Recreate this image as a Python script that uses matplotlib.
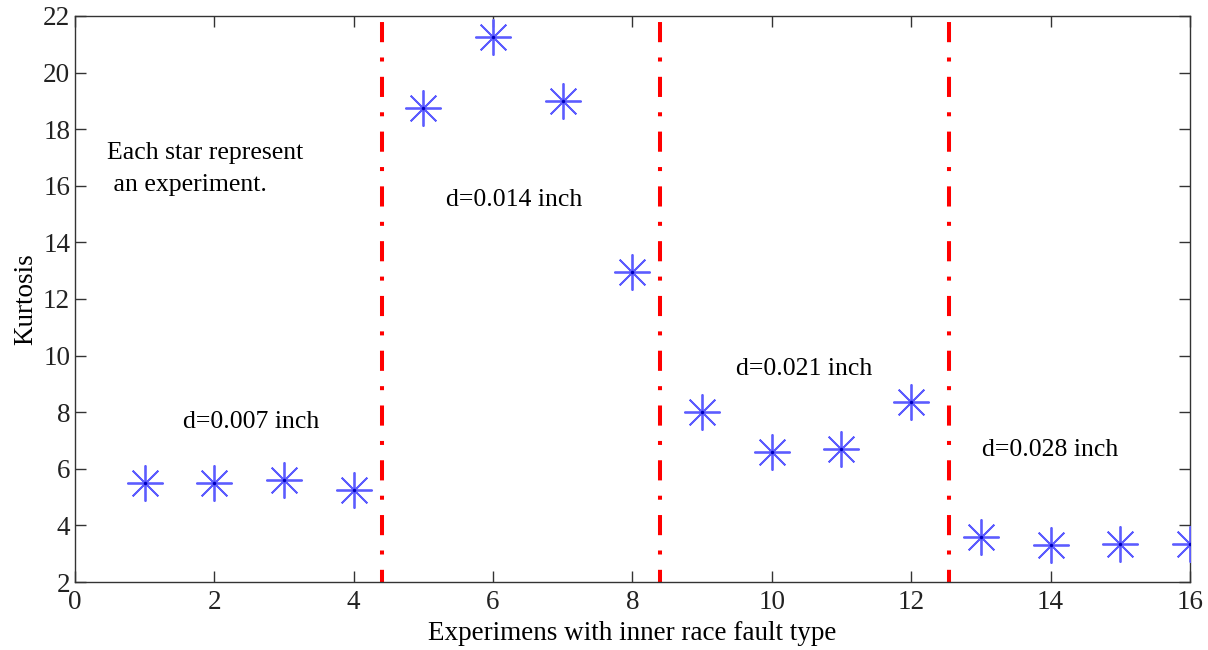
import matplotlib
matplotlib.use("Agg")
import matplotlib.pyplot as plt

experiments = list(range(1, 17))
kurtosis = [5.5, 5.5, 5.6, 5.25, 18.75, 21.25, 19.0, 12.95,
            8.0, 6.6, 6.7, 8.35, 3.6, 3.3, 3.34, 3.34]
boundaries = [4.4, 8.4, 12.55]
group_labels = ["d=0.007 inch", "d=0.014 inch", "d=0.021 inch", "d=0.028 inch"]
group_label_x = [2.53, 6.3, 10.46, 13.99]
group_label_y = [7.65, 15.5, 9.53, 6.66]
xticks = list(range(0, 17, 2))
yticks = list(range(2, 23, 2))

plt.rcParams['font.family'] = ['Liberation Serif', 'DejaVu Serif']

fig = plt.figure(figsize=(12.08, 6.5), dpi=100)
ax = fig.add_axes([0.0621, 0.1046, 0.985 - 0.0621, 0.9754 - 0.1046])

ylo, yhi = 2, 22
for b in boundaries:
    ax.plot([b, b], [yhi, ylo], color='#ff0000', linewidth=2.9,
            linestyle=(12.1, (5, 3.8, 1, 3.8)), dash_capstyle='butt', zorder=2)

ax.plot(experiments, kurtosis, linestyle='none', marker=(8, 2, 0), markersize=26,
        markeredgewidth=1.3, color='#5c5cff', zorder=3)
ax.plot(experiments, kurtosis, linestyle='none', marker='o', markersize=2.5,
        color='#0000c0', markeredgewidth=0, zorder=4)

for lab, x, y in zip(group_labels, group_label_x, group_label_y):
    ax.text(x, y, lab, ha='center', va='center', fontsize=18.5)

ax.text(0.46, 17.16, "Each star represent", ha='left', va='center', fontsize=18.5)
ax.text(0.46, 16.03, " an experiment.", ha='left', va='center', fontsize=18.5)

ax.set_xlim(0, 16)
ax.set_ylim(ylo, yhi)
ax.set_xticks(xticks)
ax.set_yticks(yticks)
ax.tick_params(direction='in', length=8, width=1, top=True, right=True,
               labelsize=19.5, colors='#333333', labelcolor='#222222')
ax.tick_params(axis='x', pad=6)
ax.tick_params(axis='y', pad=3.5)
for s in ax.spines.values():
    s.set_color('#333333')
    s.set_linewidth(1)

ax.set_xlabel("Experimens with inner race fault type", fontsize=19.5, labelpad=4)
ax.set_ylabel("Kurtosis", fontsize=19.5, labelpad=3)

fig.savefig("out.png", dpi=100)
